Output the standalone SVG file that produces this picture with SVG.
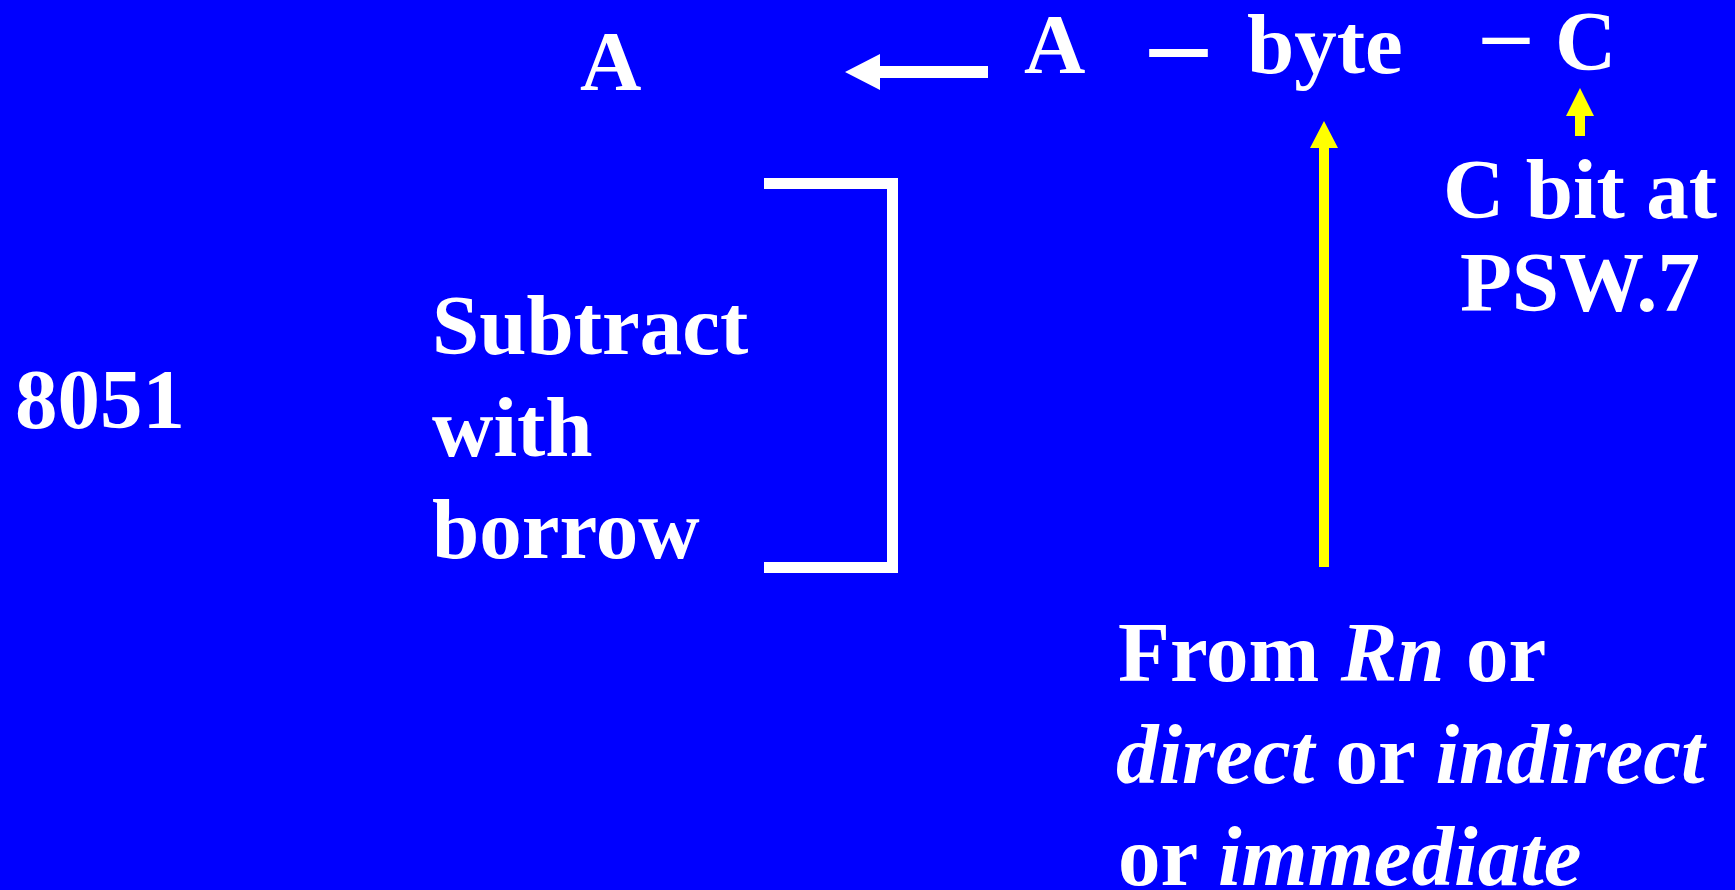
<svg xmlns="http://www.w3.org/2000/svg" width="1735" height="890" viewBox="0 0 1735 890">
<style>
.t{font-family:"Liberation Serif","Times New Roman",serif;font-weight:bold;font-size:85px;fill:#fff}
.i{font-style:italic}
.w{fill:#fff}
.y{fill:#ffff00}
.br{fill:none;stroke:#fff;stroke-width:11;stroke-linejoin:miter}
</style>
<rect width="1735" height="890" fill="#0000ff"/>
<g id="dest"><text class="t" x="580" y="90">A</text></g>
<g id="expr">
<text class="t" x="1024" y="73">A</text>
<text class="t" x="1150" y="80" style="font-size:114px">–</text>
<text class="t" x="1247" y="73">byte</text>
<text class="t" x="1483" y="62" style="font-size:92px">–</text>
<text class="t" x="1555" y="70">C</text>
</g>
<g id="cbit"><text class="t" x="1580" y="218" text-anchor="middle">C bit at</text><text class="t" x="1580" y="311" text-anchor="middle">PSW.7</text></g>
<g id="chip"><text class="t" x="15" y="428">8051</text></g>
<g id="op"><text class="t" x="432" y="354">Subtract</text><text class="t" x="432" y="456">with</text><text class="t" x="432" y="558">borrow</text></g>
<g id="bracket"><path class="br" d="M764 183.5H892.5V567.5H764"/></g>
<g id="source">
<text class="t" x="1118" y="681">From <tspan class="i">Rn</tspan> or</text>
<text class="t" x="1116" y="783"><tspan class="i">direct</tspan> or <tspan class="i">indirect</tspan></text>
<text class="t" x="1118" y="885">or <tspan class="i">immediate</tspan></text>
</g>
<g id="connectors">
<polygon class="w" points="845,72 880,54 880,66 988,66 988,78 880,78 880,90"/>
<polygon class="y" points="1324,121 1338,148 1329,148 1329,567 1319,567 1319,148 1310,148"/>
<polygon class="y" points="1580,88 1594,116 1585,116 1585,136 1575,136 1575,116 1566,116"/>
</g>
</svg>
